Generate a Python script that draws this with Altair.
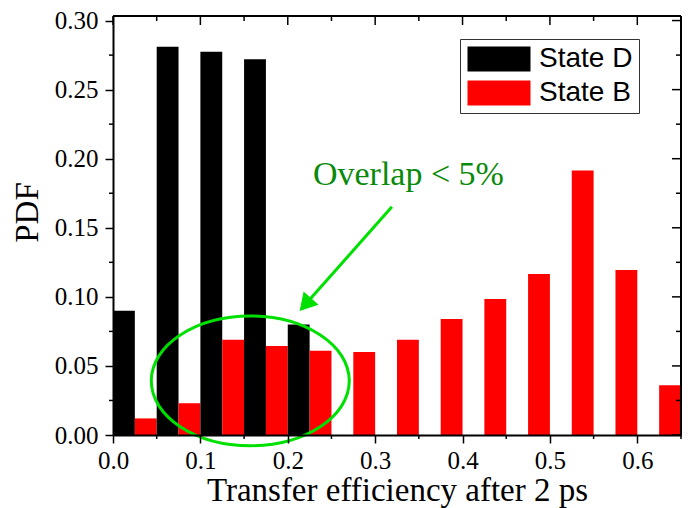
import altair as alt
import pandas as pd

# ---- data -------------------------------------------------------------------
bin_left = [0.00, 0.05, 0.10, 0.15, 0.20, 0.25, 0.30, 0.35, 0.40, 0.45, 0.50, 0.55, 0.60]
state_d = [0.090, 0.281, 0.2775, 0.272, 0.080, 0, 0, 0, 0, 0, 0, 0, 0]
state_b = [0.012, 0.023, 0.069, 0.0645, 0.061, 0.060, 0.069, 0.084, 0.0985, 0.1165, 0.1915, 0.1195, 0.036]
series_names = ["State D", "State B"]
series_colors = ["#000000", "#ff0000"]

x_major = [0.0, 0.1, 0.2, 0.3, 0.4, 0.5, 0.6]
x_minor = [0.05, 0.15, 0.25, 0.35, 0.45, 0.55, 0.65]
y_major = [0.00, 0.05, 0.10, 0.15, 0.20, 0.25, 0.30]
y_minor = [0.025, 0.075, 0.125, 0.175, 0.225, 0.275]

x_title = "Transfer efficiency after 2 ps"
y_title = "PDF"
annotation_text = ["Overlap < 5%"]
text_pos = [0.2288, 0.1809]
ellipse_center = [0.1571, 0.0392]
arrow_start = [0.3192, 0.1652]
arrow_head = [0.2203, 0.0946]

X_DOMAIN = [0.0, 0.65]
Y_DOMAIN = [0.0, 0.3033]
HALF = 0.025

W, H = 568, 419
SERIF = "Liberation Serif"
SANS = "Liberation Sans"
GREEN = "#00e000"
TEXT_GREEN = "#0a8a0a"

# ---- tables -------------------------------------------------------------------
rows = []
for b, d, r in zip(bin_left, state_d, state_b):
    rows.append({"bin": b, "series": series_names[0], "value": d})
    rows.append({"bin": b, "series": series_names[1], "value": r})
bars_df = pd.DataFrame(rows)

xs = alt.Scale(domain=X_DOMAIN, nice=False, zero=False, padding=0)
ys = alt.Scale(domain=Y_DOMAIN, nice=False, zero=False, padding=0)

axis_common = dict(
    grid=False, domain=True, domainColor="black", domainWidth=2,
    tickColor="black", tickWidth=1.5, tickSize=8, labelColor="black",
    labelFont=SERIF, labelFontSize=25, labelFlush=False, labelOverlap=False,
    titleFont=SERIF, titleFontSize=33, titleFontWeight="normal", titleColor="black",
    zindex=1,
)

x_axis = alt.Axis(
    values=x_major, format=".1f", labelPadding=5,
    title=x_title, titleX=W / 2, titleY=65, titleBaseline="alphabetic", titleAlign="center",
    **axis_common,
)
y_axis = alt.Axis(
    values=y_major, format=".2f", labelPadding=7,
    title=y_title, titleX=-76, titleY=196, titleBaseline="alphabetic", titleAlign="center",
    titleAngle=270,
    **axis_common,
)

# legend swatch: 63 x 25 px rectangle, left edge at the entry's left edge
path_rect = "M -1 -1 L 4.04 -1 L 4.04 1 L -1 1 Z"

bars = alt.Chart(bars_df).transform_filter(
    "datum.value > 0"
).transform_calculate(
    left=f"datum.bin + (datum.series == '{series_names[1]}' ? {HALF} : 0)",
    right=f"datum.bin + (datum.series == '{series_names[1]}' ? {2*HALF} : {HALF})",
).mark_bar(orient="vertical").encode(
    x=alt.X("left:Q", scale=xs, axis=x_axis),
    x2="right:Q",
    y=alt.Y("value:Q", scale=ys, axis=y_axis),
    y2=alt.datum(0),
    color=alt.Color(
        "series:N",
        scale=alt.Scale(domain=series_names, range=series_colors),
        sort=series_names,
        legend=alt.Legend(
            title=None, orient="none", legendX=347, legendY=23,
            symbolType=path_rect, symbolSize=625, symbolStrokeWidth=0,
            labelFont=SANS, labelFontSize=28, labelColor="black", labelOffset=45,
            labelLimit=0, strokeColor="#333333", fillColor="white",
            padding=6, rowPadding=6,
        ),
    ),
)

# frame (top and right edges)
frame_top = alt.Chart(pd.DataFrame({"a": [0]})).mark_rule(
    color="black", strokeWidth=2
).encode(
    x=alt.datum(X_DOMAIN[0]), x2=alt.datum(X_DOMAIN[1]),
    y=alt.datum(Y_DOMAIN[1]),
)
frame_right = alt.Chart(pd.DataFrame({"a": [0]})).mark_rule(
    color="black", strokeWidth=2
).encode(
    x=alt.datum(X_DOMAIN[1]),
    y=alt.datum(Y_DOMAIN[0]), y2=alt.datum(Y_DOMAIN[1]),
)

def x_ticks(vals, y0, y1):
    return alt.Chart(pd.DataFrame({"t": vals})).mark_rule(
        color="black", strokeWidth=1.5
    ).encode(
        x=alt.X("t:Q"),
        y=alt.value(y0), y2=alt.value(y1),
    )

def y_ticks(vals, x0, x1):
    return alt.Chart(pd.DataFrame({"t": vals})).mark_rule(
        color="black", strokeWidth=1.5
    ).encode(
        y=alt.Y("t:Q"),
        x=alt.value(x0), x2=alt.value(x1),
    )

# annotation: ellipse, arrow, text
ellipse_path = "M -1 0 A 1 0.655 0 1 0 1 0 A 1 0.655 0 1 0 -1 0 Z"
ellipse = alt.Chart(pd.DataFrame({"x": [ellipse_center[0]], "y": [ellipse_center[1]]})).mark_point(
    shape=ellipse_path, size=198 * 198, filled=False, stroke=GREEN, strokeWidth=3, opacity=1
).encode(
    x=alt.X("x:Q"),
    y=alt.Y("y:Q"),
)

arrow_df = pd.DataFrame({
    "x": [arrow_start[0]], "y": [arrow_start[1]],
    "x2": [arrow_head[0]], "y2": [arrow_head[1]],
})
arrow_line = alt.Chart(arrow_df).mark_rule(color=GREEN, strokeWidth=3).encode(
    x=alt.X("x:Q"), x2="x2:Q",
    y=alt.Y("y:Q"), y2="y2:Q",
)
arrow_tip = alt.Chart(arrow_df).mark_point(
    shape="triangle-up", size=330, filled=True, fill=GREEN, stroke=GREEN,
    strokeWidth=1, angle=221.6, opacity=1
).encode(
    x=alt.X("x2:Q"),
    y=alt.Y("y2:Q"),
)

label = alt.Chart(pd.DataFrame({"x": [text_pos[0]], "y": [text_pos[1]], "t": annotation_text})).mark_text(
    font=SERIF, fontSize=34, color=TEXT_GREEN, align="left", baseline="alphabetic"
).encode(
    x=alt.X("x:Q"),
    y=alt.Y("y:Q"),
    text="t:N",
)

chart = alt.layer(
    bars, ellipse, arrow_line, arrow_tip, label,
    x_ticks(x_major, 0, 9), x_ticks(x_minor, 0, 5),      # top, inward
    x_ticks(x_minor, H, H + 4),                           # bottom minor, outward
    y_ticks(y_major, W, W - 9), y_ticks(y_minor, W, W - 5),  # right, inward
    y_ticks(y_minor, 0, -4),                              # left minor, outward
    frame_top, frame_right,
).properties(
    width=W, height=H,
    autosize=alt.AutoSizeParams(type="none"),
    padding={"left": 113, "top": 16, "right": 13, "bottom": 73},
).configure_view(stroke=None)

chart.save("out.html", embed_options={"renderer": "svg", "actions": False})
